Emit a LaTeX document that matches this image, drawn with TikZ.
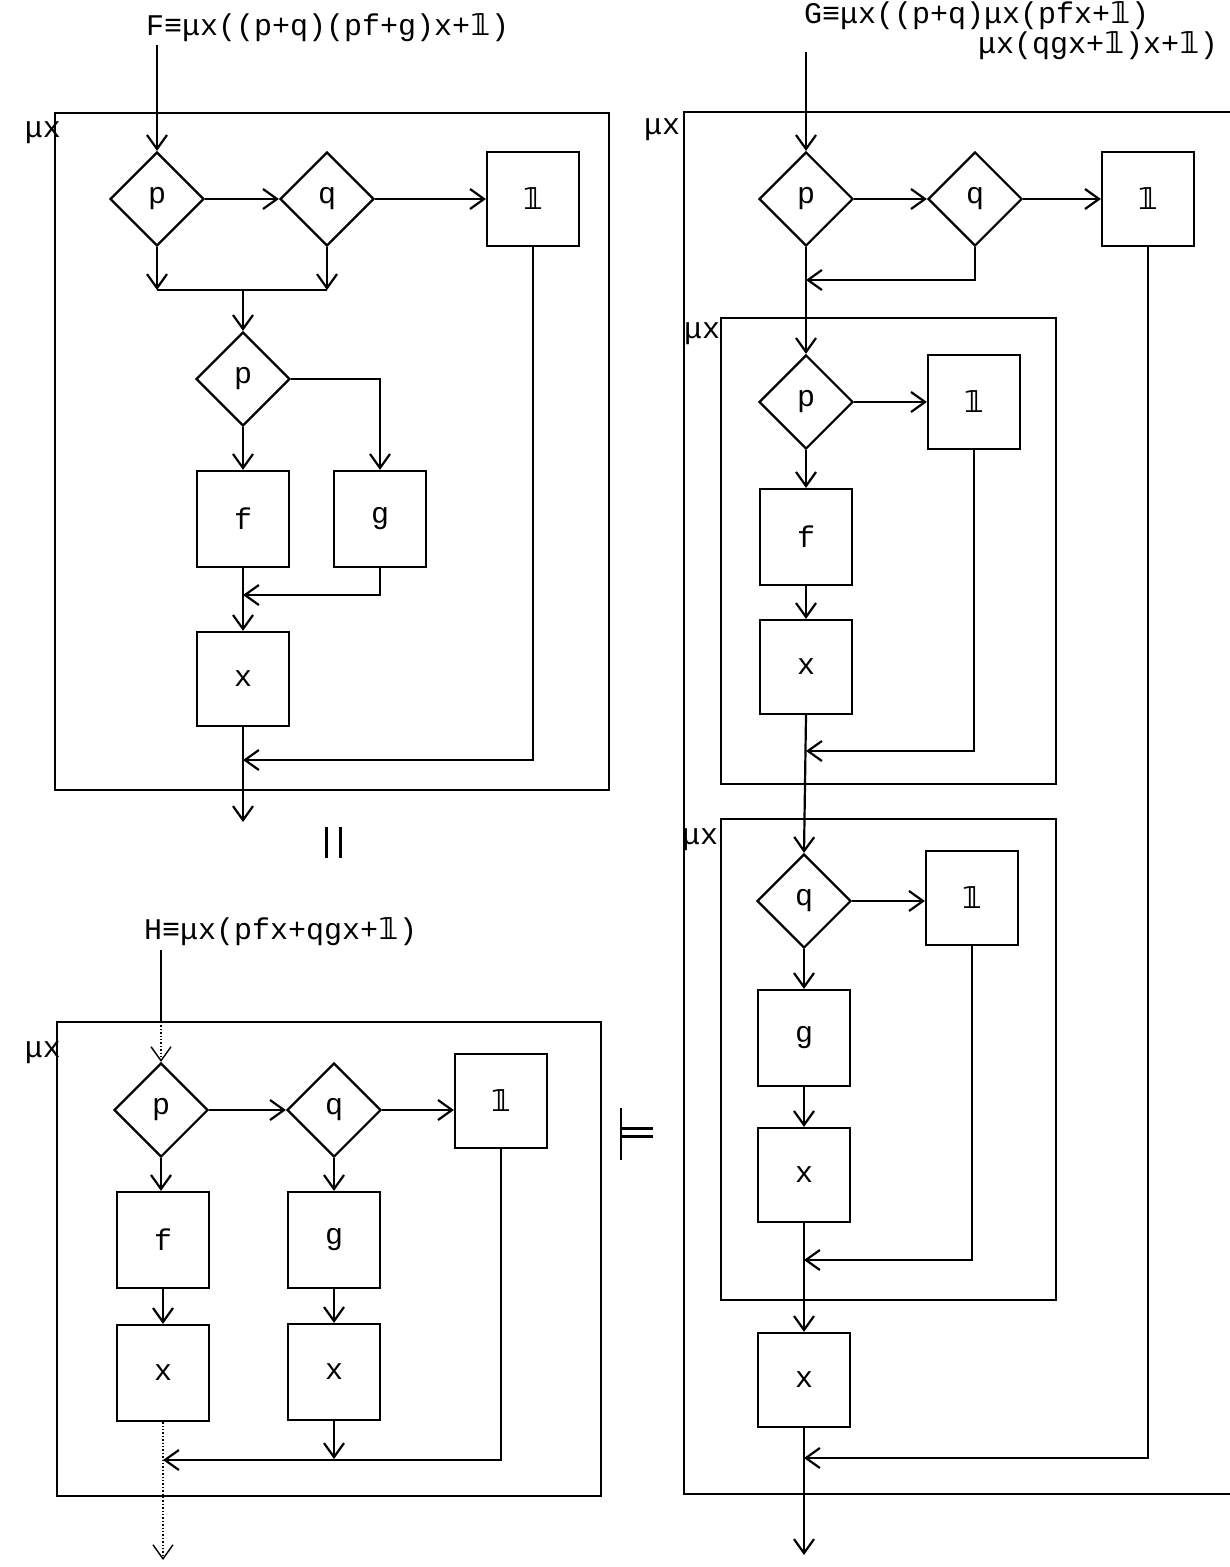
\documentclass[tikz,border=0pt]{standalone}
\usepackage{fontspec}
\setmonofont{Liberation Mono}
\newfontfamily\djfont{DejaVu Sans}
\usetikzlibrary{shapes.geometric,arrows.meta}
\newcommand\onesym{{\djfont\bfseries 𝟙}}
\newcommand\lblfont{\fontsize{15}{17}\selectfont\ttfamily}
\begin{document}
\begin{tikzpicture}[x=0.5pt,y=-0.5pt, line width=1.1pt,
  >={Straight Barb[length=7pt,width=10pt]},
  every node/.style={font=\lblfont},
  dia/.style={diamond, draw, aspect=1, minimum width=47pt, minimum height=47pt, inner sep=0pt},
  bx/.style={draw, minimum width=46pt, minimum height=47pt, inner sep=0pt},
  tall/.style={bx, minimum height=48pt},
  lab/.style={anchor=west, inner sep=0pt},
  dotl/.style={densely dotted, line width=0.7pt}]
\fill[white] (0,0) rectangle (1230,1567);
\useasboundingbox (0,0) rectangle (1230,1567);

% ================= F =================
\node[lab] (Flab) at (145,28) {F≡μx((p+q)(pf+g)x+\onesym)};
\draw (55,113) rectangle (609,790);
\node (Fmu) at (43,133) {μx};
\node[dia] (Fp) at (157,199) {p};
\node[dia] (Fq) at (327,199) {q};
\node[bx] (F1) at (533,199) {\onesym};
\node[dia] (Fp2) at (243,379) {p};
\node[tall] (Ff) at (243,519) {f};
\node[tall] (Fg) at (380,519) {g};
\node[bx] (Fx) at (243,679) {x};
\coordinate (Fin) at (157,45);
\coordinate (Fj1) at (157,290);
\coordinate (Fj2) at (327,290);
\coordinate (Fm) at (243,290);
\coordinate (Fjx) at (243,595);
\coordinate (Fjo) at (243,760);
\coordinate (Fout) at (243,822);
\draw[->] (Fin) -- (Fp.north);
\draw[->] (Fp.east) -- (Fq.west);
\draw[->] (Fq.east) -- (F1.west);
\draw[->] (Fp.south) -- (Fj1);
\draw[->] (Fq.south) -- (Fj2);
\draw (Fj1) -- (Fj2);
\draw[->] (Fm) -- (Fp2.north);
\draw[->] (Fp2.south) -- (Ff.north);
\draw[->] (Fp2.east) -| (Fg.north);
\draw[->] (Ff.south) -- (Fx.north);
\draw[->] (Fg.south) |- (Fjx);
\draw[->] (F1.south) |- (Fjo);
\draw[->] (Fx.south) -- (Fout);

% || sign
\draw[line width=1.5pt] (326,827) -- (326,858);
\draw[line width=1.5pt] (340,827) -- (340,858);

% ================= H =================
\node[lab] (Hlab) at (143,932) {H≡μx(pfx+qgx+\onesym)};
\draw (57,1022) rectangle (601,1496);
\node (Hmu) at (43,1053) {μx};
\node[dia] (Hp) at (161,1110) {p};
\node[dia] (Hq) at (334,1110) {q};
\node[bx] (H1) at (501,1101) {\onesym};
\node[tall] (Hf) at (163,1240) {f};
\node[tall] (Hg) at (334,1240) {g};
\node[tall] (Hx1) at (163,1373) {x};
\node[tall] (Hx2) at (334,1372) {x};
\coordinate (Hin) at (161,950);
\coordinate (Hb) at (161,1022);
\coordinate (Hj) at (163,1460);
\coordinate (Hk) at (334,1459);
\coordinate (Hout) at (163,1560);
\draw (Hin) -- (Hb);
\draw[->,dotl] (Hb) -- (Hp.north);
\draw[->] (Hp.east) -- (Hq.west);
\draw[->] (Hq.east) -- (Hq.east -| H1.west);
\draw[->] (Hp.south) -- (Hp.south |- Hf.north);
\draw[->] (Hf.south) -- (Hx1.north);
\draw[->] (Hq.south) -- (Hg.north);
\draw[->] (Hg.south) -- (Hx2.north);
\draw[->] (Hx2.south) -- (Hk);
\draw[->] (H1.south) |- (Hj);
\draw[->,dotl] (Hx1.south) -- (Hout);

% = sign
\draw[line width=1.2pt] (621,1108) -- (621,1160);
\draw[line width=1.5pt] (621,1128) -- (653,1128);
\draw[line width=1.5pt] (621,1136) -- (653,1136);

% ================= G =================
\node[lab, align=left, font={\fontsize{15}{14}\selectfont\ttfamily}] (Glab) at (803,31)
  {G≡μx((p+q)μx(pfx+\onesym)\\\hspace*{87pt}μx(qgx+\onesym)x+\onesym)};
\draw (1232,112) -- (684,112) -- (684,1494) -- (1232,1494);
\node (Gmu) at (662,130) {μx};
\node[dia] (Gp) at (806,199) {p};
\node[dia] (Gq) at (975,199) {q};
\node[bx] (G1) at (1148,199) {\onesym};
\coordinate (Gin) at (806,52);
\coordinate (Gj1) at (806,280);
\draw[->] (Gin) -- (Gp.north);
\draw[->] (Gp.east) -- (Gq.west);
\draw[->] (Gq.east) -- (G1.west);
\draw[->] (Gq.south) |- (Gj1);

% inner box 1
\draw (721,318) rectangle (1056,784);
\node (Imu) at (702,334) {μx};
\node[dia] (Ip) at (806,402) {p};
\node[bx] (I1) at (974,402) {\onesym};
\node[tall] (If) at (806,537) {f};
\node[bx] (Ix) at (806,667) {x};
\coordinate (Ij) at (806,751);
\draw[->] (Gp.south) -- (Ip.north);
\draw[->] (Ip.east) -- (I1.west);
\draw[->] (Ip.south) -- (If.north);
\draw[->] (If.south) -- (Ix.north);
\draw[->] (I1.south) |- (Ij);

% inner box 2
\draw (721,819) rectangle (1056,1300);
\node (Jmu) at (700,840) {μx};
\node[dia] (Jq) at (804,901) {q};
\node[bx] (J1) at (972,898) {\onesym};
\node[tall] (Jg) at (804,1038) {g};
\node[bx] (Jx) at (804,1175) {x};
\coordinate (Jj) at (804,1260);
\draw[->] (Ix.south) -- (Jq.north);
\draw[->] (Jq.east) -- (Jq.east -| J1.west);
\draw[->] (Jq.south) -- (Jg.north);
\draw[->] (Jg.south) -- (Jx.north);
\draw[->] (J1.south) |- (Jj);

% outer x
\node[bx] (Gx) at (804,1380) {x};
\coordinate (Gj2) at (804,1458);
\coordinate (Gout) at (804,1555);
\draw[->] (Jx.south) -- (Gx.north);
\draw[->] (G1.south) |- (Gj2);
\draw[->] (Gx.south) -- (Gout);
\end{tikzpicture}
\end{document}
